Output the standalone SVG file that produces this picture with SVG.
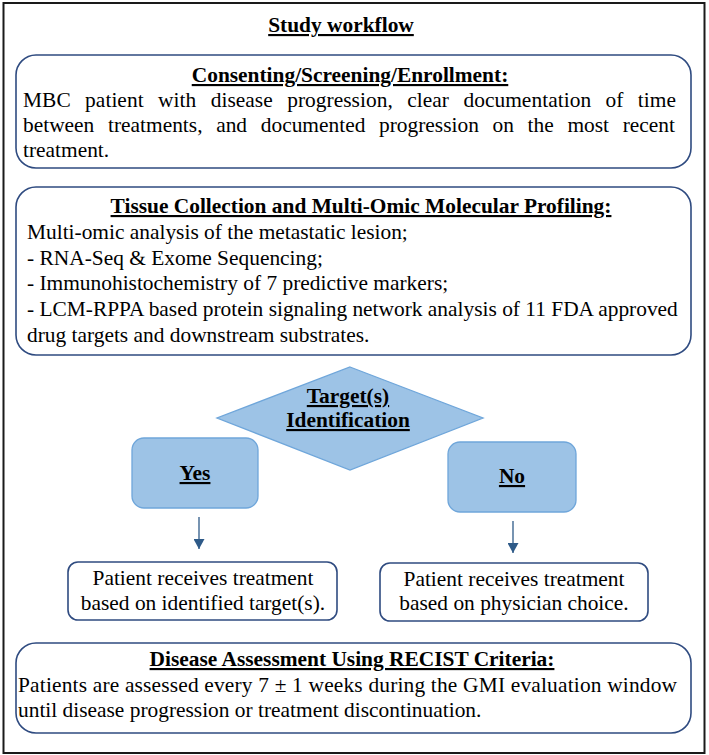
<svg xmlns="http://www.w3.org/2000/svg" width="709" height="755" viewBox="0 0 709 755">
<defs>
<marker id="ah" viewBox="0 0 10 11" refX="10" refY="5.5" markerWidth="10" markerHeight="11" markerUnits="userSpaceOnUse" orient="auto">
<path d="M0,0 L10,5.5 L0,11 z" fill="#2e5a88"/>
</marker>
<style>
text{font-family:"Liberation Serif","Times New Roman",serif;fill:#000;font-size:21.4px;}
.h{font-weight:bold;text-decoration:underline;text-anchor:middle;}
.c{text-anchor:middle;}
.box{fill:#fff;stroke:#2f4b80;stroke-width:1.6;}
.blue{fill:#9dc3e6;stroke:#6fa6da;stroke-width:1.3;}
.conn{stroke:#2e5a88;stroke-width:1.3;fill:none;}
</style>
</defs>
<rect x="3.5" y="3" width="701" height="750" fill="#fff" stroke="#1a1a1a" stroke-width="2"/>
<g id="title"><text class="h" x="341" y="32">Study workflow</text></g>
<g id="enroll">
<rect class="box" x="16" y="55" width="675" height="113" rx="20"/>
<text class="h" x="350" y="82">Consenting/Screening/Enrollment:</text>
<text x="23" y="107" word-spacing="9" textLength="653" lengthAdjust="spacing">MBC patient with disease progression, clear documentation of time</text>
<text x="23" y="132" word-spacing="8.3" textLength="652" lengthAdjust="spacing">between treatments, and documented progression on the most recent</text>
<text x="23" y="157">treatment.</text>
</g>
<g id="profiling">
<rect class="box" x="16" y="187" width="675" height="168" rx="20"/>
<text class="h" x="361" y="213">Tissue Collection and Multi-Omic Molecular Profiling:</text>
<text x="27" y="239">Multi-omic analysis of the metastatic lesion;</text>
<text x="27" y="265">- RNA-Seq &amp; Exome Sequencing;</text>
<text x="27" y="290">- Immunohistochemistry of 7 predictive markers;</text>
<text x="27" y="316">- LCM-RPPA based protein signaling network analysis of 11 FDA approved</text>
<text x="27" y="342">drug targets and downstream substrates.</text>
</g>
<g id="decision">
<polygon class="blue" points="350,367 483,418 350,470 217,418"/>
<text class="h" x="348" y="403">Target(s)</text>
<text class="h" x="348" y="427">Identification</text>
</g>
<g id="yes">
<rect class="blue" x="132" y="438" width="126" height="70" rx="12"/>
<text class="h" x="195" y="480">Yes</text>
</g>
<g id="no">
<rect class="blue" x="448" y="442" width="128" height="70" rx="12"/>
<text class="h" x="512" y="483">No</text>
</g>
<g id="connectors">
<line class="conn" x1="199" y1="517" x2="199" y2="549" marker-end="url(#ah)"/>
<line class="conn" x1="513" y1="521" x2="513" y2="553" marker-end="url(#ah)"/>
</g>
<g id="treat-target">
<rect class="box" x="68" y="562" width="269" height="58" rx="10"/>
<text class="c" x="203" y="585">Patient receives treatment</text>
<text class="c" x="203" y="610">based on identified target(s).</text>
</g>
<g id="treat-physician">
<rect class="box" x="380" y="563" width="268" height="58" rx="10"/>
<text class="c" x="514" y="586">Patient receives treatment</text>
<text class="c" x="514" y="610">based on physician choice.</text>
</g>
<g id="assessment">
<rect class="box" x="16" y="643" width="675" height="90" rx="20"/>
<text class="h" x="352" y="666">Disease Assessment Using RECIST Criteria:</text>
<text x="18" y="692" textLength="659" lengthAdjust="spacing">Patients are assessed every 7 ± 1 weeks during the GMI evaluation window</text>
<text x="18" y="717">until disease progression or treatment discontinuation.</text>
</g>
</svg>
